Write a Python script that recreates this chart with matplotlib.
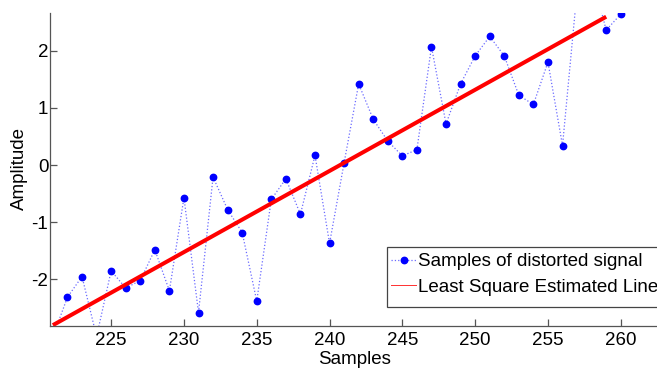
import matplotlib
matplotlib.use("Agg")
import matplotlib.pyplot as plt
from matplotlib.lines import Line2D
from matplotlib.patches import Rectangle

plt.rcParams['font.family'] = ['Liberation Sans', 'DejaVu Sans']

# Samples of distorted signal
samples = list(range(221, 261))
amplitude = [-3.0, -2.31, -1.95, -3.0, -1.85, -2.15, -2.02, -1.48, -2.20, -0.57,
             -2.58, -0.21, -0.78, -1.18, -2.38, -0.60, -0.24, -0.86, 0.17, -1.37,
             0.04, 1.42, 0.80, 0.42, 0.16, 0.27, 2.07, 0.72, 1.42, 1.91,
             2.25, 1.91, 1.22, 1.06, 1.80, 0.34, 3.05, 3.35, 2.36, 2.64]

# Least square estimated line (end points)
fit_x = [221, 259]
fit_y = [-2.80, 2.595]

xticks = [225, 230, 235, 240, 245, 250, 255, 260]
yticks = [-2, -1, 0, 1, 2]

FS = 13.5
W, H = 657, 370
fig = plt.figure(figsize=(W / 100, H / 100), dpi=100)
left, right, bottom, top = 50, 658, 326, 13
ax = fig.add_axes([left / W, (H - bottom) / H, (right - left) / W, (bottom - top) / H])

ax.plot(samples, amplitude, linestyle=':', color='#6a6aff', linewidth=0.9,
        marker='o', markersize=4.6, markerfacecolor='#0000ff', markeredgecolor='#0000ff',
        clip_on=True)
ax.plot(fit_x, fit_y, color='#ff0000', linewidth=2.9, solid_capstyle='butt')

ax.set_xlim(220.8, 220.8 + (right - left) / 14.56)
ax.set_ylim(-2.815, 2.66)
ax.set_xticks(xticks)
ax.set_yticks(yticks)
ax.set_xticklabels([str(v) for v in xticks])
ax.set_yticklabels([str(v) for v in yticks])

for s in ['top', 'right']:
    ax.spines[s].set_visible(False)
for s in ['left', 'bottom']:
    ax.spines[s].set_color('#555555')
    ax.spines[s].set_linewidth(0.9)

ax.tick_params(axis='both', direction='in', length=5, width=0.9, color='#555555',
               labelsize=FS, labelcolor='black')
ax.tick_params(axis='x', pad=4.3)
ax.tick_params(axis='y', pad=1.2)

ax.set_xlabel('Samples', fontsize=FS)
ax.set_ylabel('Amplitude', fontsize=FS)
ax.xaxis.set_label_coords((355 - left) / (right - left), -(359 - bottom) / (bottom - top))
ax.xaxis.label.set_va('center')
ax.yaxis.set_label_coords(-(left - 19.5) / (right - left), (bottom - 169) / (bottom - top))
ax.yaxis.label.set_va('center')

# legend frame (MATLAB style, extends past the right edge)
frame = Rectangle((387 / W, 1 - 307.3 / H), (700 - 387) / W, (307.3 - 246.7) / H,
                  transform=fig.transFigure, facecolor='white', edgecolor='#444444',
                  linewidth=0.9, zorder=4)
fig.add_artist(frame)

handles = [
    Line2D([], [], linestyle=':', color='#6a6aff', linewidth=0.9, marker='o',
           markersize=4.6, markerfacecolor='#0000ff', markeredgecolor='#0000ff'),
    Line2D([], [], color='#ff3030', linewidth=0.7),
]
leg = fig.legend(handles, ['Samples of distorted signal', 'Least Square Estimated Line'],
                 loc='upper left', bbox_to_anchor=(387.5 / W, 1 - 249.2 / H),
                 bbox_transform=fig.transFigure, borderaxespad=0,
                 fontsize=FS, handlelength=1.32, handletextpad=0.12,
                 borderpad=0.2, labelspacing=0.46, frameon=False)
leg.set_zorder(5)

fig.savefig('out.png', dpi=100)
